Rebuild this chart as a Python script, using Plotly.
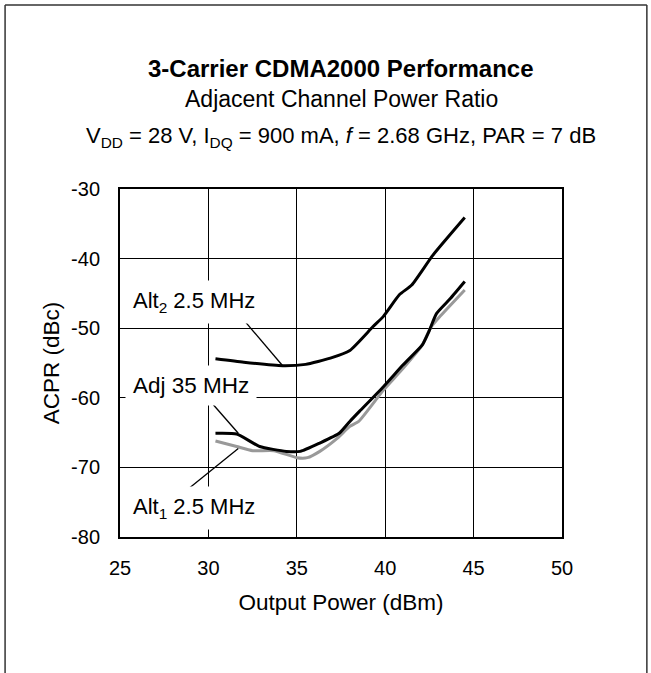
import plotly.graph_objects as go

# ---- data ----
pout_alt2 = [30.4, 32.0, 34.2, 35.5, 36.9, 38.0, 39.3, 39.9, 40.8, 41.5, 42.7, 44.5]
acpr_alt2 = [-54.4, -54.9, -55.4, -55.2, -54.3, -53.2, -49.8, -48.3, -45.2, -43.8, -39.5, -34.1]

pout_adj = [30.4, 31.6, 32.9, 34.4, 35.2, 36.3, 37.4, 38.0, 38.6, 39.9, 41.0, 42.1, 42.5, 42.9, 43.7, 44.5]
acpr_adj = [-65.1, -65.2, -67.0, -67.7, -67.7, -66.5, -65.1, -63.4, -61.8, -58.4, -55.3, -52.4, -50.3, -47.9, -45.7, -43.3]

pout_alt1 = [30.4, 31.6, 32.5, 33.7, 35.0, 35.6, 36.3, 37.3, 38.0, 38.5, 39.9, 41.0, 42.1, 42.6, 43.1, 44.5]
acpr_alt1 = [-66.2, -67.0, -67.6, -67.6, -68.6, -68.6, -67.7, -65.8, -64.1, -63.4, -58.9, -55.8, -52.4, -49.8, -48.3, -44.5]

x_ticks = [25, 30, 35, 40, 45, 50]
x_ticktext = ["25", "30", "35", "40", "45", "50"]
y_ticks = [-80, -70, -60, -50, -40, -30]
y_ticktext = ["-80", "-70", "-60", "-50", "-40", "-30"]

FONT = "Arial, Liberation Sans, sans-serif"

fig = go.Figure()
fig.add_trace(go.Scatter(x=pout_alt1, y=acpr_alt1, mode="lines",
                         line=dict(color="#999999", width=3, shape="spline", smoothing=0.5),
                         showlegend=False, hoverinfo="skip"))
fig.add_trace(go.Scatter(x=pout_adj, y=acpr_adj, mode="lines",
                         line=dict(color="#000000", width=3, shape="spline", smoothing=0.5),
                         showlegend=False, hoverinfo="skip"))
fig.add_trace(go.Scatter(x=pout_alt2, y=acpr_alt2, mode="lines",
                         line=dict(color="#000000", width=3, shape="spline", smoothing=0.5),
                         showlegend=False, hoverinfo="skip"))

# leader lines for labels
leaders = [
    ((31.96, -48.7), (34.2, -55.4)),
    ((30.28, -61.0), (31.69, -65.1)),
    ((28.96, -72.9), (31.69, -67.3)),
]
for (x0, y0), (x1, y1) in leaders:
    fig.add_shape(type="line", xref="x", yref="y", x0=x0, y0=y0, x1=x1, y1=y1,
                  line=dict(color="black", width=1.3), layer="above")

labels = [
    ("Alt<sub>2</sub> 2.5 MHz", 29.2, -46.2, 22),
    ("Adj 35 MHz", 29.0, -58.2, 22.5),
    ("Alt<sub>1</sub> 2.5 MHz", 29.2, -75.8, 22),
]
for txt, x, y, sz in labels:
    fig.add_annotation(x=x, y=y, xref="x", yref="y", text=txt, showarrow=False,
                       font=dict(family=FONT, size=sz, color="black"),
                       bgcolor="white", borderpad=7)

# titles
fig.add_annotation(x=0.5, y=1.345, xref="paper", yref="paper",
                   text="<b>3-Carrier CDMA2000 Performance</b>", showarrow=False,
                   font=dict(family=FONT, size=24, color="black"), yanchor="middle")
fig.add_annotation(x=0.5, y=1.259, xref="paper", yref="paper",
                   text="Adjacent Channel Power Ratio", showarrow=False,
                   font=dict(family=FONT, size=23, color="black"), yanchor="middle")
fig.add_annotation(x=0.5, y=1.15, xref="paper", yref="paper",
                   text="V<sub>DD</sub> = 28 V, I<sub>DQ</sub> = 900 mA, <i>f</i> = 2.68 GHz, PAR = 7 dB",
                   showarrow=False,
                   font=dict(family=FONT, size=22, color="black"), yanchor="middle")

# outer frame (left, top, right)
L, R, T, B = -0.26, 1.192, 1.529, -0.45
for x0, y0, x1, y1 in [(L, B, L, T), (L, T, R, T), (R, T, R, B)]:
    fig.add_shape(type="line", xref="paper", yref="paper", x0=x0, y0=y0, x1=x1, y1=y1,
                  line=dict(color="#333333", width=1.5))

fig.update_xaxes(range=[25, 50], tickvals=x_ticks, ticktext=x_ticktext,
                 showgrid=True, gridcolor="black", gridwidth=1,
                 showline=True, linecolor="black", linewidth=2, mirror=True, zeroline=False,
                 ticks="", ticklabelstandoff=12,
                 tickfont=dict(family=FONT, size=20, color="black"),
                 title=dict(text="Output Power (dBm)", font=dict(family=FONT, size=22.5, color="black"),
                            standoff=16))
fig.update_yaxes(range=[-80, -30], tickvals=y_ticks, ticktext=y_ticktext,
                 showgrid=True, gridcolor="black", gridwidth=1,
                 showline=True, linecolor="black", linewidth=2, mirror=True, zeroline=False,
                 ticks="", ticklabelstandoff=14,
                 tickfont=dict(family=FONT, size=20, color="black"),
                 title=dict(text="ACPR (dBc)", font=dict(family=FONT, size=22.5, color="black"),
                            standoff=5))

fig.update_layout(width=651, height=673, margin=dict(l=120, r=89, t=189, b=136, autoexpand=False),
                  paper_bgcolor="white", plot_bgcolor="white", showlegend=False)

fig.write_html("out.html", config={"displayModeBar": False},
               post_script="document.body.style.margin='0';document.body.style.overflow='hidden';")
